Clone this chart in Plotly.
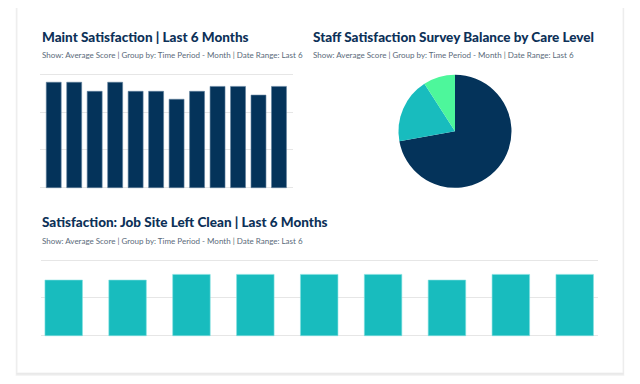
import plotly.graph_objects as go

# ---- data ----
maint_months = [f"M{i}" for i in range(1, 13)]
maint_scores = [2.79, 2.79, 2.55, 2.79, 2.55, 2.55, 2.34, 2.55, 2.68, 2.68, 2.45, 2.68]

care_levels = ["Level A", "Level B", "Level C"]
care_shares = [72.2, 18.7, 9.1]

clean_months = [f"M{i}" for i in range(1, 10)]
clean_scores = [1.47, 1.47, 1.62, 1.62, 1.62, 1.62, 1.47, 1.62, 1.62]

titles = [
    "Maint Satisfaction | Last 6 Months",
    "Staff Satisfaction Survey Balance by Care Level",
    "Satisfaction: Job Site Left Clean | Last 6 Months",
]
subtitle = "Show: Average Score | Group by: Time Period - Month | Date Range: Last 6"

NAVY = "#04335a"
TEAL = "#18bcbe"
GREEN = "#4df79b"
# page body has an 8px margin; size the figure so the page fits the window exactly
OFF = 8
W, H = 640 - 2 * OFF, 384 - 2 * OFF

def px(x):
    return (x - OFF) / W

def py(y):
    return 1 - (y - OFF) / H

fig = go.Figure()

fig.add_trace(go.Bar(
    x=maint_months, y=maint_scores, marker=dict(color=NAVY, line=dict(color="#5f7f9c", width=0.6)),
    xaxis="x", yaxis="y", hoverinfo="skip", showlegend=False))

fig.add_trace(go.Pie(
    labels=care_levels, values=care_shares, sort=False, direction="clockwise", rotation=0,
    marker=dict(colors=[NAVY, TEAL, GREEN], line=dict(width=0)),
    textinfo="none", hoverinfo="skip", showlegend=False,
    domain=dict(x=[px(398.5), px(511.5)], y=[py(187.8), py(74.8)])))

fig.add_trace(go.Bar(
    x=clean_months, y=clean_scores, width=0.587,
    marker=dict(color=TEAL, line=dict(color="#7fe0e0", width=0.6)),
    xaxis="x2", yaxis="y2", hoverinfo="skip", showlegend=False))

grid = "#e6e6e6"
u1 = (187.7 - 74.3) / 3.0
u2 = (335.7 - 260.0) / 2.0
fig.update_layout(
    width=W, height=H, margin=dict(l=0, r=0, t=0, b=0),
    paper_bgcolor="white", plot_bgcolor="rgba(0,0,0,0)",
    bargap=0.27,
    xaxis=dict(domain=[px(40), px(292.7)], range=[-0.67, 11.67], showticklabels=False,
               showgrid=False, zeroline=False),
    yaxis=dict(domain=[py(187.7 + 0.1 * u1), py(74.3 - 0.1 * u1)], range=[-0.1, 3.1],
               dtick=1, tick0=0, showticklabels=False, showgrid=True, gridcolor=grid,
               gridwidth=1, zeroline=False),
    xaxis2=dict(domain=[px(40.7), px(597.7)], range=[-0.36, 8.36], showticklabels=False,
                showgrid=False, zeroline=False),
    yaxis2=dict(domain=[py(335.7 + 0.1 * u2), py(260.0 - 0.1 * u2)], range=[-0.1, 2.1],
                dtick=1, tick0=0, showticklabels=False, showgrid=True, gridcolor=grid,
                gridwidth=1, zeroline=False),
)

# card with soft shadow
shapes = []
for i, a in enumerate([0.02, 0.025, 0.03, 0.035]):
    off = 4 - i
    shapes.append(dict(type="rect", xref="paper", yref="paper", layer="below",
                       x0=px(17 - off * 0.4), x1=px(623 + off * 0.4), y0=py(373 + off), y1=py(-20),
                       fillcolor=f"rgba(0,0,0,{a})", line=dict(width=0)))
shapes.append(dict(type="rect", xref="paper", yref="paper", layer="below",
                   x0=px(17), x1=px(623), y0=py(373), y1=py(-20),
                   fillcolor="white", line=dict(color="#f0f0f0", width=1)))
fig.update_layout(shapes=shapes)

tfont = dict(family="Lato", size=13.5, color="#0d3158", weight=900)
sfont = dict(family="Lato", size=8, color="#5a6a7a")
ann = []
for t, x, y in [(titles[0], 39.5, 36.7), (titles[1], 310.5, 36.7), (titles[2], 39.5, 222.5)]:
    ann.append(dict(text=t, x=px(x), y=py(y), xref="paper", yref="paper", xanchor="left",
                    yanchor="middle", showarrow=False, font=tfont))
for x, y in [(40, 55), (311, 55), (40, 241)]:
    ann.append(dict(text=subtitle, x=px(x), y=py(y), xref="paper", yref="paper", xanchor="left",
                    yanchor="middle", showarrow=False, font=sfont))
fig.update_layout(annotations=ann)

fig.write_html("out.html")
